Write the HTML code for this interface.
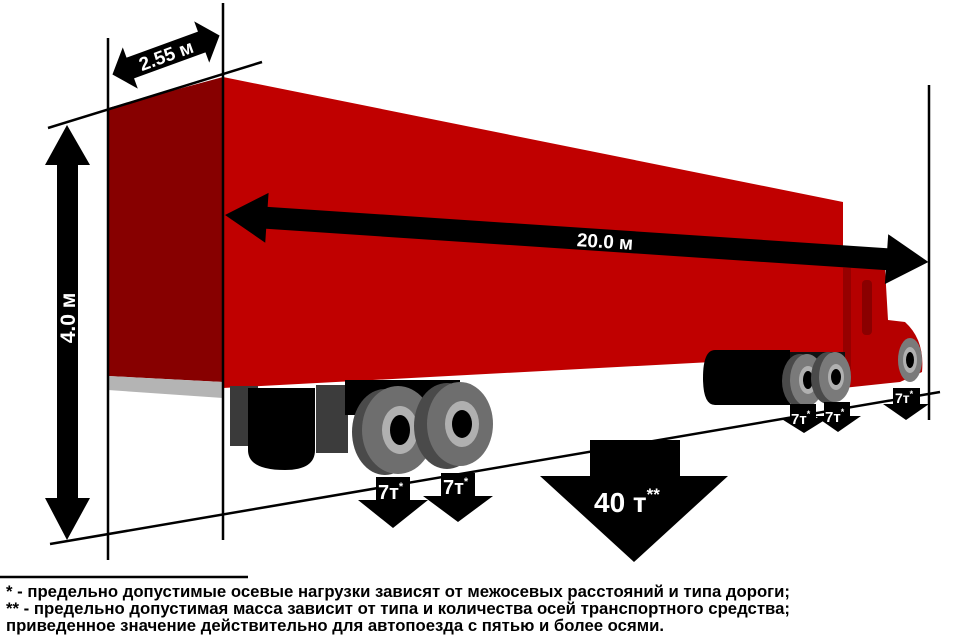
<!DOCTYPE html>
<html><head><meta charset="utf-8"><style>
html,body{margin:0;padding:0;background:#fff;width:956px;height:639px;overflow:hidden}
svg{display:block}
text{font-family:"Liberation Sans",sans-serif;font-weight:bold}
</style></head><body>
<svg width="956" height="639" viewBox="0 0 956 639" xmlns="http://www.w3.org/2000/svg">
<!-- trailer side -->
<polygon points="223,77 843,202 843,355 223,388" fill="#c00000"/>
<!-- cab -->
<path d="M843,265 L885,268 L888,320 L905,322 Q925,340 922,372 L900,382 L843,388 Z" fill="#b50000"/>
<rect x="862" y="280" width="10" height="55" rx="4" fill="#8a0000"/>
<rect x="843" y="268" width="8" height="110" fill="#960000"/>
<!-- back face -->
<polygon points="108,108 223,77 223,382 108,376" fill="#870000"/>
<polygon points="108,376 223,382 223,398 108,390" fill="#b4b4b4"/>
<!-- undercarriage -->
<rect x="230" y="386" width="28" height="60" fill="#3a3a3a"/>
<path d="M248,388 L315,388 L315,450 Q315,470 285,470 Q248,470 248,450 Z" fill="#000"/>
<rect x="316" y="385" width="32" height="68" fill="#3c3c3c"/>
<rect x="345" y="380" width="115" height="35" fill="#000"/>
<!-- tractor tank -->
<path d="M715,350 L790,350 L790,405 L715,405 Q703,405 703,378 Q703,350 715,350 Z" fill="#000"/>
<rect x="790" y="352" width="55" height="30" fill="#111"/>
<!-- rear wheels -->
<g>
<ellipse cx="385" cy="432" rx="33" ry="43" fill="#4a4a4a"/>
<ellipse cx="398" cy="430" rx="36" ry="44" fill="#6e6e6e"/>
<ellipse cx="400" cy="430" rx="18" ry="24" fill="#b0b0b0"/>
<ellipse cx="400" cy="430" rx="10" ry="15" fill="#000"/>
<ellipse cx="447" cy="426" rx="33" ry="43" fill="#4a4a4a"/>
<ellipse cx="460" cy="424" rx="33" ry="42" fill="#6e6e6e"/>
<ellipse cx="462" cy="424" rx="17" ry="23" fill="#b0b0b0"/>
<ellipse cx="462" cy="424" rx="10" ry="14" fill="#000"/>
</g>
<!-- tractor wheels -->
<g>
<ellipse cx="800" cy="381" rx="18" ry="27" fill="#4a4a4a"/>
<ellipse cx="807" cy="380" rx="17" ry="26" fill="#7a7a7a"/>
<ellipse cx="808" cy="380" rx="9" ry="14" fill="#b0b0b0"/>
<ellipse cx="808" cy="380" rx="5" ry="9" fill="#000"/>
<ellipse cx="828" cy="378" rx="17" ry="26" fill="#4a4a4a"/>
<ellipse cx="835" cy="377" rx="16" ry="25" fill="#7a7a7a"/>
<ellipse cx="836" cy="377" rx="8" ry="13" fill="#b0b0b0"/>
<ellipse cx="836" cy="377" rx="5" ry="8" fill="#000"/>
<ellipse cx="910" cy="360" rx="12" ry="22" fill="#7a7a7a"/>
<ellipse cx="910" cy="360" rx="7" ry="13" fill="#b0b0b0"/>
<ellipse cx="910" cy="360" rx="4" ry="8" fill="#000"/>
</g>
<!-- guide lines -->
<g stroke="#000" stroke-width="2.5">
<line x1="48" y1="128" x2="262" y2="62"/>
<line x1="50" y1="544" x2="940" y2="392"/>
<line x1="108" y1="38" x2="108" y2="560"/>
<line x1="223" y1="3" x2="223" y2="540"/>
<line x1="929" y1="85" x2="929" y2="420"/>
</g>
<!-- 4.0 м arrow -->
<polygon points="67,125 90,165 78,165 78,498 90,498 67,540 45,498 57,498 57,165 45,165" fill="#000"/>
<text transform="translate(75,318) rotate(-90)" font-size="21" fill="#fff" text-anchor="middle">4.0 м</text>
<!-- 2.55 arrow -->
<g transform="translate(166,55) rotate(-20)">
<polygon points="-57,0 -38,-22 -38,-11 38,-11 38,-22 57,0 38,22 38,11 -38,11 -38,22" fill="#000"/>
<text x="0" y="7" font-size="19" fill="#fff" text-anchor="middle">2.55 м</text>
</g>
<!-- 20.0 м arrow -->
<g transform="translate(225,215) rotate(3.82)">
<polygon points="0,0 42,-25 42,-11 663,-11 663,-25 705,0 663,25 663,11 42,11 42,25" fill="#000"/>
</g>
<text x="605" y="248" font-size="19" fill="#fff" text-anchor="middle" transform="rotate(3.8 605 242)">20.0 м</text>
<!-- axle arrows -->
<g fill="#000">
<polygon points="376,477 410,477 410,500 428,500 393,528 358,500 376,500"/>
<polygon points="441,473 475,473 475,496 493,496 458,522 423,496 441,496"/>
<polygon points="790,404 816,404 816,418 828,418 804,433 780,418 790,418"/>
<polygon points="824,402 850,402 850,416 861,416 838,432 815,416 824,416"/>
<polygon points="893,388 920,388 920,404 929,404 906,420 883,404 893,404"/>
<polygon points="590,440 680,440 680,476 728,476 634,562 540,476 590,476"/>
</g>
<g fill="#fff">
<text x="378" y="499" font-size="20">7т<tspan font-size="11" dy="-9">*</tspan></text>
<text x="443" y="494" font-size="20">7т<tspan font-size="11" dy="-9">*</tspan></text>
<text x="791" y="424" font-size="15">7т<tspan font-size="9" dy="-7">*</tspan></text>
<text x="825" y="422" font-size="15">7т<tspan font-size="9" dy="-7">*</tspan></text>
<text x="895" y="403" font-size="14">7т<tspan font-size="9" dy="-6">*</tspan></text>
<text x="594" y="512" font-size="28">40 т<tspan font-size="17" dy="-12">**</tspan></text>
</g>
<!-- footnotes -->
<line x1="0" y1="577" x2="248" y2="577" stroke="#000" stroke-width="2.5"/>
<g font-size="17" fill="#000">
<text x="6" y="597" textLength="784" lengthAdjust="spacingAndGlyphs">* - предельно допустимые осевые нагрузки зависят от межосевых расстояний и типа дороги;</text>
<text x="6" y="614" textLength="784" lengthAdjust="spacingAndGlyphs">** - предельно допустимая масса зависит от типа и количества осей транспортного средства;</text>
<text x="6" y="631" textLength="658" lengthAdjust="spacingAndGlyphs">приведенное значение действительно для автопоезда с пятью и более осями.</text>
</g>
</svg>
</body></html>
